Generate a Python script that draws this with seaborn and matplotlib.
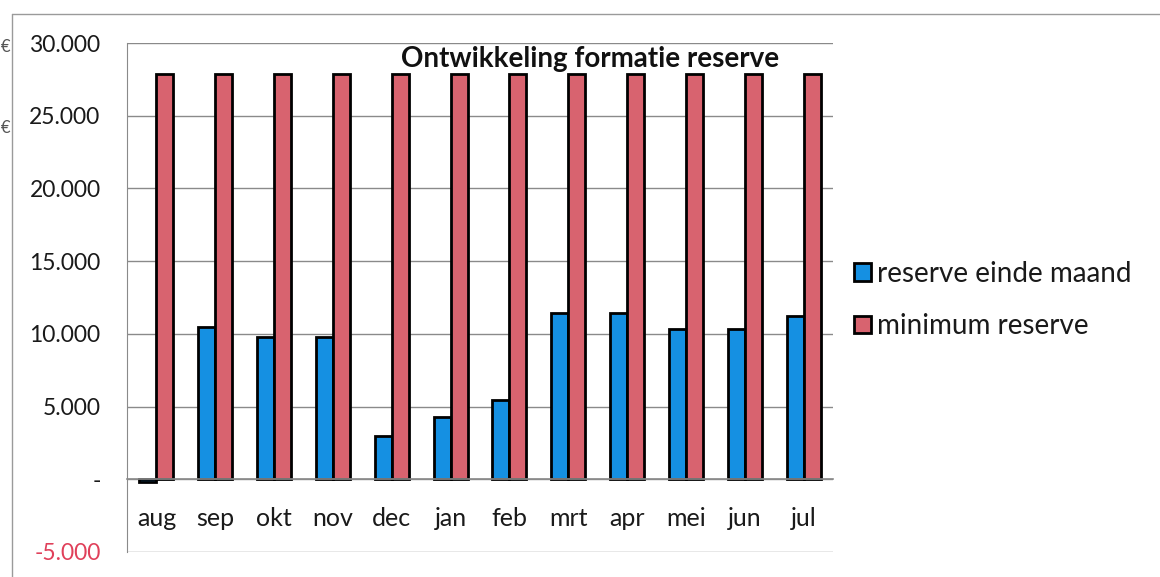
import matplotlib
matplotlib.use('Agg')
import pandas as pd
import seaborn as sns
from matplotlib import pyplot as plt
from matplotlib.ticker import FuncFormatter, FixedLocator
from matplotlib.lines import Line2D

months = ['aug', 'sep', 'okt', 'nov', 'dec', 'jan', 'feb', 'mrt', 'apr', 'mei', 'jun', 'jul']
reserve_einde_maand = [-200, 10500, 9750, 9800, 2950, 4250, 5450, 11450, 11450, 10300, 10350, 11250]
minimum_reserve = [27900] * 12
series_names = ['reserve einde maand', 'minimum reserve']
colors = ['#1590e2', '#d8636f']

df = pd.DataFrame({'maand': months,
                   series_names[0]: reserve_einde_maand,
                   series_names[1]: minimum_reserve})
df = pd.melt(df, id_vars='maand', var_name='type', value_name='bedrag')

sns.set_style('white')
plt.rcParams['font.family'] = ['Lato', 'DejaVu Sans']

fig = plt.figure(figsize=(11.6, 5.77), dpi=100)
ax = fig.add_axes([127 / 1160, 25 / 577, (833 - 127) / 1160, (552 - 43) / 577])

sns.barplot(data=df, x='maand', y='bedrag', hue='type', palette=colors, saturation=1,
            width=0.58, edgecolor='black', linewidth=2, ax=ax, legend=True)

ax.set_ylim(-5000, 30000)
ax.set_xlim(-0.5, len(months) - 0.5)
ax.set_yticks(range(-5000, 30001, 5000))


def fmt(v, pos):
    if v == 0:
        return '-'
    return '{:,.0f}'.format(v).replace(',', '.')


ax.yaxis.set_major_formatter(FuncFormatter(fmt))
ax.grid(axis='y', color='#8a8a8a', linewidth=1)
ax.set_axisbelow(True)
for lbl in ax.get_yticklabels():
    lbl.set_color('#1a1a1a')
    if lbl.get_text().startswith('-5'):
        lbl.set_color('#e0405a')

ax.spines['top'].set_visible(False)
ax.spines['right'].set_visible(False)
ax.spines['left'].set_color('#8a8a8a')
ax.spines['bottom'].set_position(('data', 0))
ax.spines['bottom'].set_color('#8a8a8a')
ax.spines['bottom'].set_linewidth(1.2)
ax.xaxis.set_minor_locator(FixedLocator([i + 0.5 for i in range(len(months))]))
ax.tick_params(axis='x', which='major', length=0, pad=20, labelsize=18, labelcolor='#1a1a1a')
ax.tick_params(axis='x', which='minor', length=5, color='#8a8a8a', direction='out')
ax.tick_params(axis='y', length=5, color='#8a8a8a', direction='out', labelsize=16.5, pad=14)
ax.set_xlabel('')
ax.set_ylabel('')

ax.text(0.656, 0.995, 'Ontwikkeling formatie reserve', transform=ax.transAxes,
        ha='center', va='top', fontsize=20, fontweight='bold', color='#111111')

handles, labels = ax.get_legend_handles_labels()
leg = ax.legend(handles, series_names, loc='center left', bbox_to_anchor=(0.995, 0.495),
                frameon=False, fontsize=20, handlelength=0.6, handleheight=0.6,
                handletextpad=0.2, labelspacing=0.95)
for t in leg.get_texts():
    t.set_color('#1a1a1a')

# outer chart frame, cut off at the edge of the scan
fig.add_artist(Line2D([12 / 1160, 1], [1 - 14 / 577, 1 - 14 / 577],
                      transform=fig.transFigure, color='#9a9a9a', linewidth=1))
fig.add_artist(Line2D([12 / 1160, 12 / 1160], [0, 1 - 14 / 577],
                      transform=fig.transFigure, color='#9a9a9a', linewidth=1))
fig.text(1 / 1160, 1 - 47 / 577, '€', fontsize=12, color='#555555', va='center')
fig.text(1 / 1160, 1 - 128 / 577, '€', fontsize=12, color='#555555', va='center')

plt.savefig('out.png', dpi=100)
